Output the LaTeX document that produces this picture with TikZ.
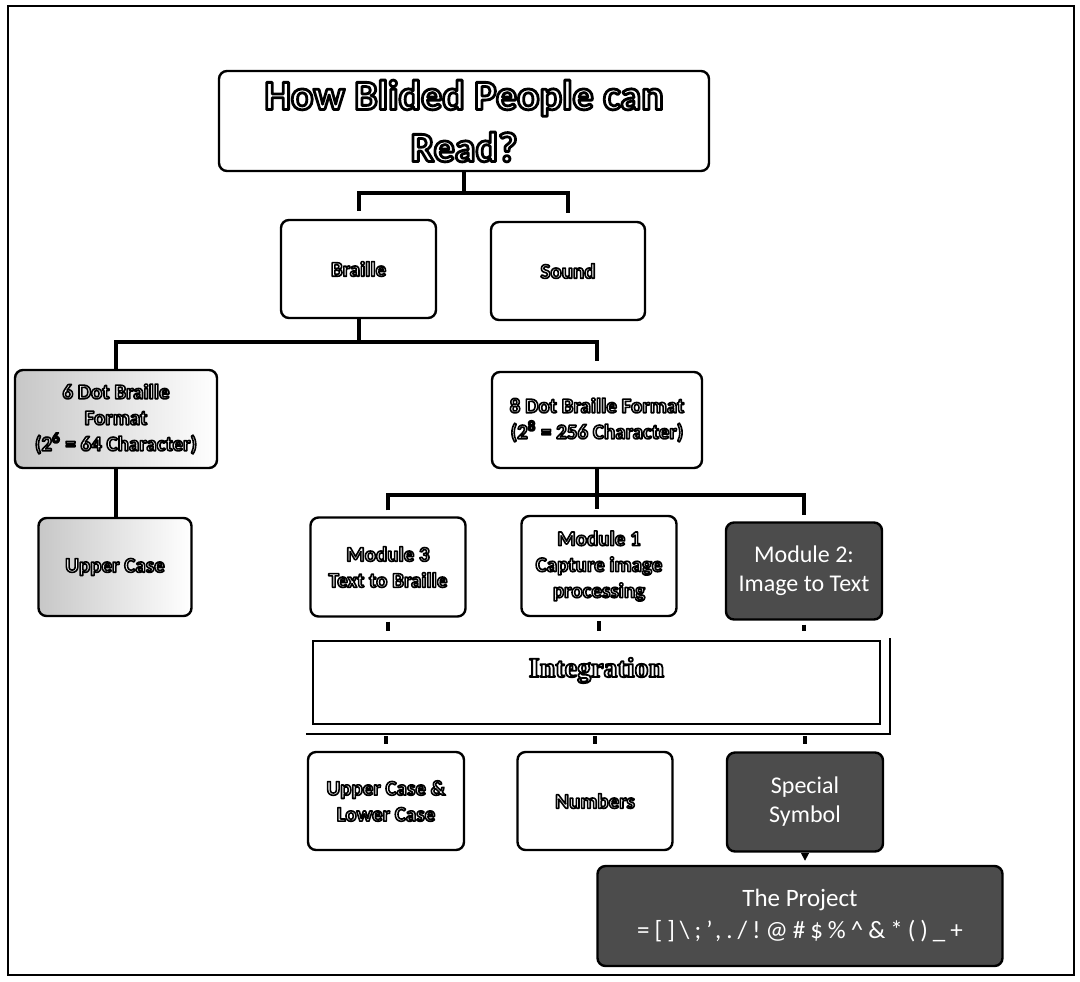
\documentclass[tikz,border=0pt]{standalone}
\usepackage{fontspec}
\setmainfont{Carlito}
\newfontfamily\integfont{Liberation Serif}
\usetikzlibrary{positioning, arrows.meta}
% white letters with a black rim (fill and stroke render mode)
\newcommand{\outl}[2][0.8]{\special{pdf:literal direct 2 Tr #1 w 0 0 0 RG 1 j}#2\special{pdf:literal direct 0 Tr}}

\begin{document}
\begin{tikzpicture}[x=0.5pt, y=-0.5pt,
		box/.style={draw, line width=1.2pt, rounded corners=4pt, align=center, text=white, inner sep=2pt,
			font=\fontsize{10.5}{13}\selectfont\bfseries},
		dark/.style={box, fill=black!70, font=\fontsize{12}{14.5}\selectfont},
		fade/.style={left color=black!22, middle color=white, right color=white},
		link/.style={line width=2pt},
		stub/.style={line width=2.2pt}
		]
		\fill[white] (0,0) rectangle (1080,981);
		\useasboundingbox (0,0) rectangle (1080,981);
		\draw[line width=0.8pt] (8,6) rectangle (1074,975);

		\node[box, minimum width=245pt, minimum height=50pt, font=\fontsize{21}{26}\selectfont\bfseries] (Q) at (464,121) {\outl[1.4]{How Blided People can}\\\outl[1.4]{Read?}};
		\node[box, minimum width=77.5pt, minimum height=49pt] (B) at (358.5,269) {\outl{Braille}};
		\node[box, minimum width=77pt, minimum height=49pt] (S) at (568,271) {\outl{Sound}};
		\node[box, fade, minimum width=101pt, minimum height=49pt] (D6) at (116,419) {\outl{6 Dot Braille}\\\outl{Format}\\\outl{(2\textsuperscript{6} = 64 Character)}};
		\node[box, fade, minimum width=76.5pt, minimum height=49pt] (U) at (115,567) {\outl{Upper Case}};
		\node[box, minimum width=105pt, minimum height=48pt] (D8) at (597,420) {\outl{8 Dot Braille Format}\\\outl{(2\textsuperscript{8} = 256 Character)}};

		\node[box, minimum width=77.5pt, minimum height=49.5pt] (M3) at (388,567) {\outl{Module 3}\\\outl{Text to Braille}};
		\node[box, minimum width=77.5pt, minimum height=50pt] (M1) at (599,566) {\outl{Module 1}\\\outl{Capture image}\\\outl{processing}};
		\node[dark, minimum width=78pt, minimum height=48.5pt] (M2) at (804,571) {Module 2:\\Image to Text};

		\node[draw, line width=1.2pt, minimum width=283.5pt, minimum height=41.5pt, inner sep=3pt, text height=15pt, text depth=20.5pt,
			text=white, font=\integfont\bfseries\fontsize{14}{16}\selectfont] (I) at (596.5,682.5) {\outl[0.9]{Integration}};
		\draw[line width=1.2pt] ([xshift=-3pt,yshift=-4.5pt]I.south west) -| ([xshift=4.5pt,yshift=1pt]I.north east);

		\node[box, minimum width=78pt, minimum height=49pt] (L) at (386,801) {\outl{Upper Case \&}\\\outl{Lower Case}};
		\node[box, minimum width=77.5pt, minimum height=49pt] (N) at (595,801) {\outl{Numbers}};
		\node[dark, minimum width=78pt, minimum height=49.5pt] (X) at (805,802) {Special\\Symbol};
		\node[dark, minimum width=202.5pt, minimum height=50pt, font=\fontsize{12.5}{16}\selectfont] (P) at (800,916)
			{The Project\\ {\addfontfeature{LetterSpace=20}=[]\textbackslash;',./!@\#\$\%\textasciicircum\&*()\_+}};

		% tree links
		\coordinate (j1) at (464,193);
		\coordinate (j2) at (358.5,342);
		\coordinate (j3) at (597,495);
		\draw[link] (Q.south) -- (j1);
		\draw[link, shorten <=4pt, shorten >=4pt] (B.north) |- (j1) -| (S.north);
		\draw[link] (B.south) -- (j2);
		\draw[link, shorten >=5pt] (D6.north) |- (j2) -| (D8.north);
		\draw[link] (D6.south) -- (D6.south |- U.north);
		\draw[link] (D8.south) -- (j3);
		\draw[link, shorten <=3pt, shorten >=3pt] (M3.north) |- (j3) -| (M2.north);
		\draw[link, shorten >=3pt] (j3) -- (j3 |- M1.north);

		% stubs round the integration block
		\foreach \m in {M3, M1, M2}
			\draw[stub, shorten <=2pt, shorten >=4.5pt] (\m.south) -- (\m.south |- I.north);
		\foreach \n in {L, N, X}
			\draw[stub, shorten <=5.5pt, shorten >=3.5pt] (I.south -| \n.north) -- (\n.north);
		\draw[line width=0.8pt, -{Triangle[length=4pt, width=4pt]}, shorten <=1.5pt, shorten >=2pt] (X.south) -- (X.south |- P.north);
	\end{tikzpicture}
\end{document}
